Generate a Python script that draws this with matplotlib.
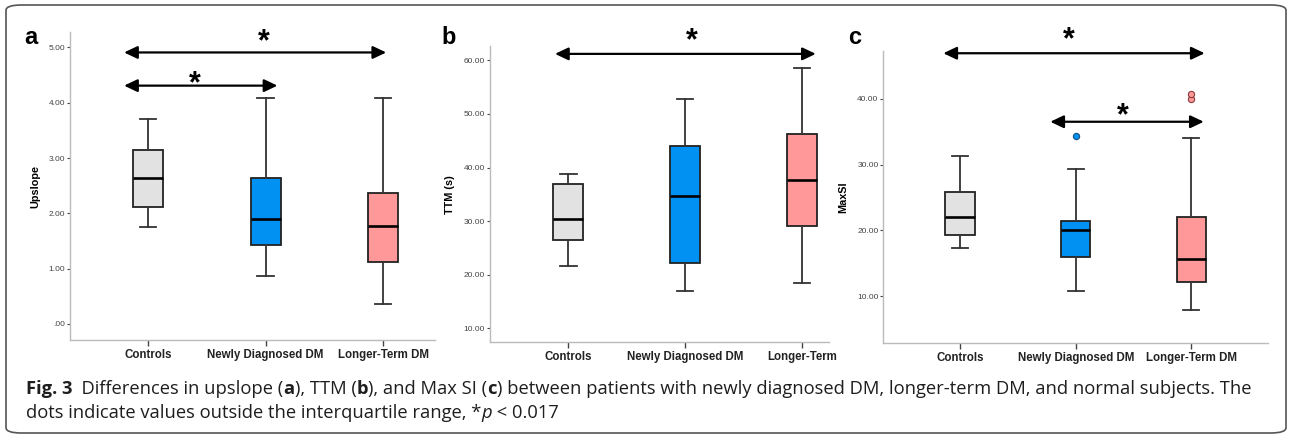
import matplotlib
matplotlib.use("Agg")
import matplotlib.pyplot as plt
from matplotlib.patches import FancyBboxPatch

# categories and colours
groups = ["Controls", "Newly Diagnosed DM", "Longer-Term DM"]
box_colors = ["#e2e2e2", "#0091f2", "#ff9898"]
flier_edges = ["#333333", "#1a4f80", "#8a3a3a"]

# panel a - upslope
up_whislo = [1.76, 0.87, 0.37]
up_q1 = [2.12, 1.43, 1.12]
up_med = [2.64, 1.89, 1.78]
up_q3 = [3.15, 2.64, 2.36]
up_whishi = [3.71, 4.09, 4.09]
up_fliers = [[], [], []]
up_ticks = [0, 1, 2, 3, 4, 5]
up_ticklabels = [".00", "1.00", "2.00", "3.00", "4.00", "5.00"]

# panel b - TTM (s)
ttm_whislo = [21.6, 17.0, 18.45]
ttm_q1 = [26.5, 22.1, 29.1]
ttm_med = [30.45, 34.6, 37.6]
ttm_q3 = [36.9, 44.1, 46.2]
ttm_whishi = [38.8, 52.8, 58.6]
ttm_fliers = [[], [], []]
ttm_ticks = [10, 20, 30, 40, 50, 60]
ttm_ticklabels = ["10.00", "20.00", "30.00", "40.00", "50.00", "60.00"]

# panel c - MaxSI
si_whislo = [17.4, 10.8, 7.9]
si_q1 = [19.27, 15.98, 12.2]
si_med = [22.0, 20.0, 15.67]
si_q3 = [25.85, 21.5, 22.05]
si_whishi = [31.3, 29.33, 34.1]
si_fliers = [[], [34.3], [40.0, 40.7]]
si_ticks = [10, 20, 30, 40]
si_ticklabels = ["10.00", "20.00", "30.00", "40.00"]


def make_stats(lo, q1, med, q3, hi, fl):
    return [dict(whislo=lo[i], q1=q1[i], med=med[i], q3=q3[i], whishi=hi[i],
                 fliers=fl[i]) for i in range(len(lo))]


W, H = 1290, 437
fig = plt.figure(figsize=(W / 100, H / 100), dpi=100)

# rounded frame round the whole figure
frame = FancyBboxPatch((6 / W, 4 / H), 1280 / W, 428 / H,
                       boxstyle="round,pad=0,rounding_size=0.012",
                       transform=fig.transFigure, fill=False,
                       edgecolor="#555555", lw=1.2)
fig.patches.append(frame)


def box_panel(rect, stats, ylim, xlim, ticks, ticklabels, ylabel, xlabels,
              letter, letter_x, arrows, stars):
    ax = fig.add_axes(rect)
    bp = ax.bxp(stats, positions=[0, 1, 2], widths=0.255, capwidths=0.14,
                patch_artist=True, showfliers=True)
    for i, b in enumerate(bp["boxes"]):
        b.set_facecolor(box_colors[i])
        b.set_edgecolor("#222222")
        b.set_linewidth(1.3)
    for m in bp["medians"]:
        m.set_color("black")
        m.set_linewidth(1.9)
    for w in bp["whiskers"] + bp["caps"]:
        w.set_color("#333333")
        w.set_linewidth(1.3)
    for i, f in enumerate(bp["fliers"]):
        f.set_marker("o")
        f.set_markersize(4.5)
        f.set_markerfacecolor(box_colors[i])
        f.set_markeredgecolor(flier_edges[i])
        f.set_markeredgewidth(0.8)
    ax.set_ylim(*ylim)
    ax.set_xlim(*xlim)
    ax.set_yticks(ticks)
    ax.set_yticklabels(ticklabels, fontsize=6, color="#444444",
                       family="Liberation Sans")
    ax.set_xticks([0, 1, 2])
    ax.set_xticklabels(xlabels, fontsize=8.3, fontweight="bold",
                       family="Liberation Sans", color="#222222")
    ax.tick_params(axis="y", length=2.5, width=0.8, color="#444444", pad=1)
    ax.tick_params(axis="x", length=4, width=1.0, color="#444444", pad=2.5)
    for s in ["top", "right"]:
        ax.spines[s].set_visible(False)
    for s in ["left", "bottom"]:
        ax.spines[s].set_color("#bbbbbb")
        ax.spines[s].set_linewidth(1.0)
    ax.set_ylabel(ylabel, fontsize=7.8, fontweight="bold",
                  family="Liberation Sans", labelpad=6)
    for x0, x1, y in arrows:
        ax.annotate("", xy=(x1, y), xytext=(x0, y), annotation_clip=False,
                    arrowprops=dict(arrowstyle="<|-|>,head_length=0.8,head_width=0.38",
                                    color="black", lw=1.6,
                                    shrinkA=0, shrinkB=0))
    for x, y in stars:
        ax.text(x, y, "*", fontsize=22, fontweight="bold", ha="center",
                va="center", family="Liberation Sans", clip_on=False)
    fig.text(letter_x / W, 1 - 37 / H, letter, fontsize=17, fontweight="bold",
             family="Liberation Sans", ha="left", va="center")
    return ax


box_panel([70 / W, 1 - 340 / H, 365 / W, 308 / H],
          make_stats(up_whislo, up_q1, up_med, up_q3, up_whishi, up_fliers),
          (-0.29, 5.28), (-0.664, 2.44), up_ticks, up_ticklabels,
          "Upslope", groups, "a", 24,
          [(-0.204, 2.025, 4.91), (-0.204, 1.10, 4.31)],
          [(0.98, 5.10), (0.40, 4.34)])

box_panel([490 / W, 1 - 342.3 / H, 339 / W, 296.3 / H],
          make_stats(ttm_whislo, ttm_q1, ttm_med, ttm_q3, ttm_whishi, ttm_fliers),
          (7.39, 62.67), (-0.67, 2.23), ttm_ticks, ttm_ticklabels,
          "TTM (s)", ["Controls", "Newly Diagnosed DM", "Longer-Term"], "b", 441,
          [(-0.114, 2.117, 61.2)],
          [(1.055, 63.6)])

box_panel([883.3 / W, 1 - 343.3 / H, 384.4 / W, 292.3 / H],
          make_stats(si_whislo, si_q1, si_med, si_q3, si_whishi, si_fliers),
          (2.87, 47.24), (-0.664, 2.66), si_ticks, si_ticklabels,
          "MaxSI", groups, "c", 848,
          [(-0.145, 2.115, 46.9), (0.78, 2.107, 36.5)],
          [(0.94, 48.8), (1.41, 37.4)])

# caption, written run by run so that bold and italic parts sit inline
renderer = fig.canvas.get_renderer()


def caption_line(runs, x, y):
    for txt, weight, style in runs:
        t = fig.text(x, y, txt, fontsize=13.25, fontweight=weight, style=style,
                     family="Open Sans", color="#1e1e1e", ha="left", va="center")
        bb = t.get_window_extent(renderer)
        x = bb.x1 / W


line1 = [("Fig. 3", "bold", "normal"), ("  Differences in upslope (", "normal", "normal"),
         ("a", "bold", "normal"), ("), TTM (", "normal", "normal"),
         ("b", "bold", "normal"), ("), and Max SI (", "normal", "normal"),
         ("c", "bold", "normal"),
         (") between patients with newly diagnosed DM, longer-term DM, and normal subjects. The",
          "normal", "normal")]
line2 = [("dots indicate values outside the interquartile range, *", "normal", "normal"),
         ("p", "normal", "italic"), (" < 0.017", "normal", "normal")]
caption_line(line1, 26 / W, 1 - 389 / H)
caption_line(line2, 26 / W, 1 - 413 / H)

fig.savefig("out.png", dpi=100)
